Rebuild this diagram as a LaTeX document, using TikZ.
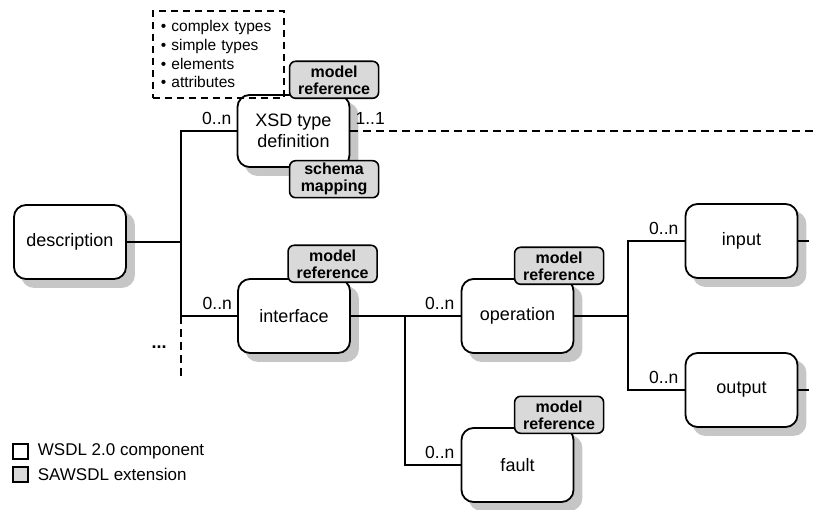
\documentclass[tikz,border=0pt]{standalone}
\usepackage{fontspec}
\setmainfont{Liberation Sans}
\usetikzlibrary{positioning}
\definecolor{tagfill}{HTML}{D9D9D9}
\definecolor{shade}{HTML}{C6C6C6}
\tikzset{
    comp/.style={draw, line width=1.8pt, rounded corners=12pt, fill=white,
        minimum width=112pt, minimum height=74pt, align=center,
        font=\fontsize{18}{21}\selectfont,
        preaction={draw=shade, fill=shade, transform canvas={shift={(8pt,-8pt)}}}},
    tag/.style={draw, line width=1.6pt, rounded corners=6pt, fill=tagfill,
        minimum width=89pt, minimum height=37pt, inner sep=1pt, align=center,
        font=\fontsize{16}{17}\bfseries\selectfont},
    mult/.style={font=\fontsize{17.5}{20}\selectfont, inner sep=1pt},
    conn/.style={line width=1.8pt},
    openend/.style={conn, dash pattern=on 8pt off 5pt},
    keytext/.style={font=\fontsize{17}{20}\selectfont, inner sep=1pt},
    keybox/.style={draw, line width=1.4pt, minimum size=15pt, inner sep=0pt}
}

\begin{document}
\begin{tikzpicture}[x=1pt, y=-1pt]
    \useasboundingbox (0,0) rectangle (813,510);

    % components
    \node[comp] (desc) at (70,242) {description};
    \node[comp, minimum height=72pt] (xsd) at (293.5,131) {XSD type\\definition};
    \node[comp] (iface) at (294,316) {interface};
    \node[comp] (op) at (517.5,316) {operation};
    \node[comp] (in) at (741.5,241) {input};
    \node[comp] (out) at (741.5,390) {output};
    \node[comp] (fault) at (517.5,465) {fault};

    % extensions
    \node[tag, above left=-5pt and -29pt of xsd.north east] (xsdref) {model\\reference};
    \node[tag, below left=-8pt and -29pt of xsd.south east] (xsdmap) {schema\\mapping};
    \node[tag, above left=-5pt and -27pt of iface.north east] (ifaceref) {model\\reference};
    \node[tag, above left=-7pt and -30pt of op.north east] (opref) {model\\reference};
    \node[tag, above left=-7pt and -30pt of fault.north east] (faultref) {model\\reference};

    \node[draw, line width=1.6pt, dash pattern=on 7pt off 5pt, anchor=north west,
        text width=115pt, inner xsep=8pt, minimum height=87pt, align=left,
        font=\fontsize{15.5}{18.7}\selectfont] (xsdkinds) at (152,10)
        {• complex types\\• simple types\\• elements\\• attributes};

    % junctions
    \coordinate (j1) at (181,242);
    \coordinate (j2) at (405,316);
    \coordinate (j3) at (628,316);
    \coordinate (rim) at (813,0);

    \draw[conn] (desc) -- (j1);
    \draw[conn] (xsd.west) -| (j1) |- (iface.west);
    \draw[openend] (iface.west -| j1) -- ++(0,62);
    \draw[openend] (xsd.east) -- (xsd.east -| rim);

    \draw[conn] (iface) -- (op);
    \draw[conn] (j2) |- (fault.west);

    \draw[conn] (op) -- (j3);
    \draw[conn] (in.west) -| (j3) |- (out.west);
    \draw[conn, dash pattern=on 11pt off 4pt] (in.east) -- (in.east -| rim);
    \draw[conn, dash pattern=on 11pt off 4pt] (out.east) -- (out.east -| rim);

    % multiplicities
    \node[mult, above left=5pt and 4pt of xsd.west] (xsdmult) {0..n};
    \node[mult, above right=5pt and 4pt of xsd.east] (xsdone) {1..1};
    \node[mult, above left=5pt and 4pt of iface.west] (ifacemult) {0..n};
    \node[mult, above left=5pt and 5pt of op.west] (opmult) {0..n};
    \node[mult, above left=5pt and 5pt of in.west] (inmult) {0..n};
    \node[mult, above left=5pt and 5pt of out.west] (outmult) {0..n};
    \node[mult, above left=5pt and 5pt of fault.west] (faultmult) {0..n};

    \node[font=\fontsize{18}{20}\bfseries\selectfont, inner sep=0pt] (more) at (159,347) {...};

    % legend
    \node[keybox, fill=white] (keycomp) at (20.5,451.5) {};
    \node[keytext, right=8pt of keycomp] (keycomptext) {WSDL 2.0 component};
    \node[keybox, fill=tagfill] (keyext) at (20.5,474.5) {};
    \node[keytext, right=8pt of keyext] (keyexttext) {SAWSDL extension};
\end{tikzpicture}
\end{document}
